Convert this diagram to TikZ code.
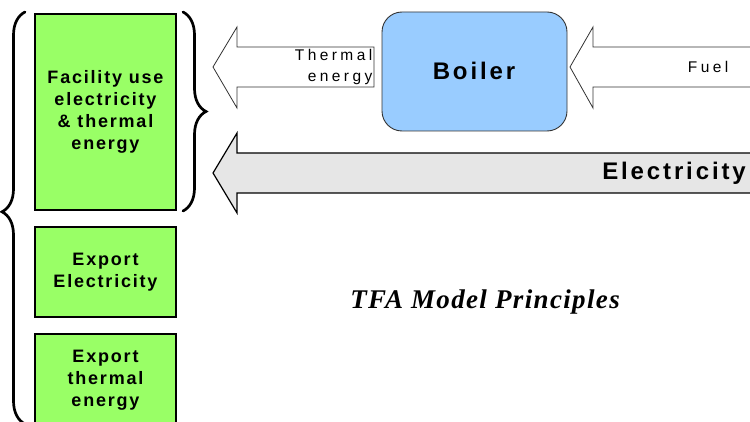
\documentclass[tikz,border=0pt]{standalone}
\usepackage{fontspec}
\setmainfont{Liberation Sans}
\newfontfamily\lsbold[LetterSpace=10]{Liberation Sans}
\newfontfamily\lsbig[LetterSpace=12]{Liberation Sans}
\newfontfamily\lsthin[LetterSpace=22]{Liberation Sans}
\newfontfamily\titlefont[LetterSpace=5]{Liberation Serif}
\usetikzlibrary{decorations.pathreplacing}
\definecolor{boxgreen}{HTML}{99FF66}
\definecolor{boilerblue}{HTML}{99CCFF}
\definecolor{elecgray}{HTML}{E6E6E6}
\definecolor{edgegray}{HTML}{333333}
\tikzset{
  greenbox/.style={draw=black, line width=1.6pt, fill=boxgreen, minimum width=141pt, inner sep=0pt,
    align=center, font=\lsbold\bfseries\fontsize{18}{22}\selectfont},
  flowarrow/.style={draw=edgegray, line width=0.8pt, fill=white},
  bigbrace/.style={decorate, decoration={brace, amplitude=23pt}, line width=2.7pt, line cap=round},
  bigbold/.style={font=\lsbig\bfseries\fontsize{24}{26}\selectfont, inner sep=0pt},
  thinlabel/.style={font=\lsthin\fontsize{15.5}{20}\selectfont, inner sep=0pt}
}
\begin{document}
\begin{tikzpicture}[x=1pt,y=1pt]
\useasboundingbox (0,0) rectangle (750,421);
\clip (0,0) rectangle (750,421);
% boxes
\node[greenbox, minimum height=196pt] (facility) at (105.5,309) {Facility use\\electricity\\\& thermal\\energy};
\node[greenbox, minimum height=90pt] (exportel) at (105.5,149) {Export\\Electricity};
\node[greenbox, minimum height=92pt] (exportth) at (105.5,41) {Export\\thermal\\energy};
% boiler
\node[draw=edgegray, line width=0.9pt, fill=boilerblue, rounded corners=20pt, minimum width=185pt, minimum height=119pt] (boiler) at (474.5,349.5) {};
\node[bigbold, anchor=base] (boilertext) at (474,341) {Boiler};
% arrows
\draw[flowarrow] (374,374) -- (237,374) -- (237,394) -- (213,354) -- (237,313) -- (237,334) -- (374,334) -- cycle;
\draw[flowarrow] (760,374) -- (593,374) -- (593,394) -- (570,354) -- (593,313) -- (593,334) -- (760,334) -- cycle;
\draw[flowarrow, fill=elecgray, line width=1.2pt, draw=black] (760,268) -- (237,268) -- (237,288) -- (213,248) -- (237,208) -- (237,228) -- (760,228) -- cycle;
% arrow labels
\node[thinlabel, anchor=base east] (thermal1) at (372.5,360) {Thermal};
\node[thinlabel, anchor=base east] (thermal2) at (372.5,339.5) {energy};
\node[thinlabel, anchor=base east] (fuel) at (728.5,348.3) {Fuel};
\node[bigbold, anchor=base east] (elec) at (746,241) {Electricity};
% title
\node[font=\titlefont\bfseries\itshape\fontsize{27}{30}\selectfont, anchor=base, inner sep=0pt] (title) at (485,113) {TFA Model Principles};
% braces
\coordinate (lbS) at (25,-3);
\coordinate (lbE) at (25,409);
\draw[bigbrace, decoration={aspect=0.515}] (lbS) -- (lbE);
\coordinate (rbS) at (183,409);
\coordinate (rbE) at (183,210);
\draw[bigbrace] (rbS) -- (rbE);
\end{tikzpicture}
\end{document}
